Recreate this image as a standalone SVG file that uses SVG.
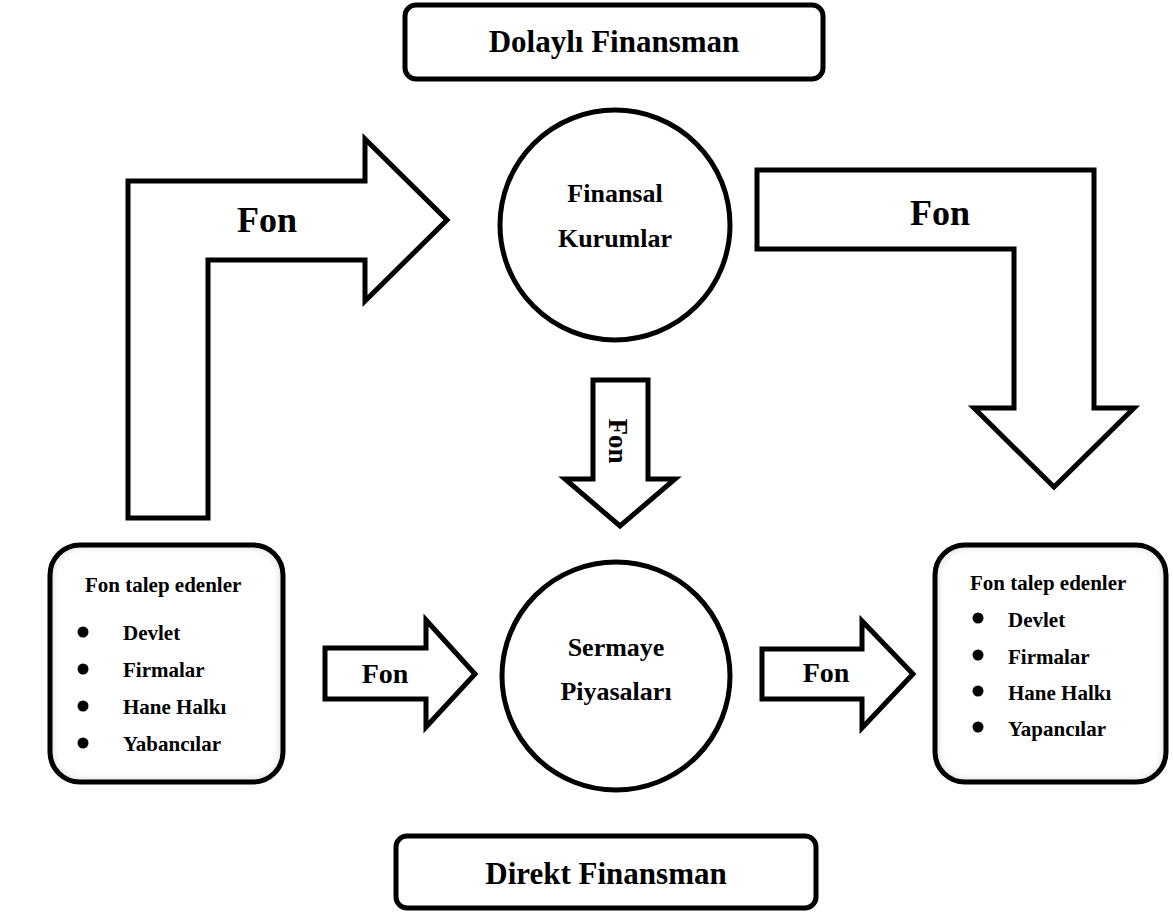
<svg xmlns="http://www.w3.org/2000/svg" width="1173" height="915" viewBox="0 0 1173 915">
  <style>
    text { font-family: "Liberation Serif", "Times New Roman", serif; font-weight: bold; fill: #000; }
    .outline { fill: #fff; stroke: #000; stroke-width: 5; stroke-linejoin: miter; }
    .circle { fill: #fff; stroke: #000; stroke-width: 5; }
    .frame { fill: none; stroke: #000; stroke-width: 5; }
    .title { font-size: 31px; text-anchor: middle; }
    .ctext { font-size: 26px; text-anchor: middle; }
    .fonbig { font-size: 36px; text-anchor: middle; }
    .fonsmall { font-size: 28px; text-anchor: middle; }
    .list { font-size: 21px; }
    .bullet { fill: #000; }
  </style>
  <defs>
    <filter id="inner" x="-10%" y="-10%" width="120%" height="120%">
      <feFlood flood-color="#000" flood-opacity="0.6"/>
      <feComposite in2="SourceAlpha" operator="out"/>
      <feGaussianBlur stdDeviation="5"/>
      <feComposite in2="SourceAlpha" operator="in" result="sh"/>
      <feMerge><feMergeNode in="SourceGraphic"/><feMergeNode in="sh"/></feMerge>
    </filter>
  </defs>
  <rect width="1173" height="915" fill="#fff"/>

  <g id="connectors">
    <g id="arrow-left-bent">
      <polygon class="outline" points="128,518 128,181 365,181 365,139 447,220 365,301 365,260 208,260 208,518"/>
      <text class="fonbig" x="267" y="232">Fon</text>
    </g>
    <g id="arrow-right-bent">
      <polygon class="outline" points="757,170 1094,170 1094,408 1134,408 1054,487 974,408 1014,408 1014,249 757,249"/>
      <text class="fonbig" x="940" y="225">Fon</text>
    </g>
    <g id="arrow-down">
      <polygon class="outline" points="593,380 648,380 648,479 675,479 620,526 565,479 593,479"/>
      <text font-size="27" text-anchor="middle" transform="translate(609,441) rotate(90)">Fon</text>
    </g>
    <g id="arrow-left-small">
      <polygon class="outline" points="325,648 426,648 426,620 475,674 426,727 426,699 325,699"/>
      <text class="fonsmall" x="385" y="683">Fon</text>
    </g>
    <g id="arrow-right-small">
      <polygon class="outline" points="762,649 862,649 862,621 913,674 862,728 862,699 762,699"/>
      <text class="fonsmall" x="826" y="682">Fon</text>
    </g>
  </g>

  <g id="dolayli-finansman">
    <rect class="frame" x="405" y="5" width="418" height="74" rx="11" fill="#fff"/>
    <text class="title" x="614" y="52">Dolaylı Finansman</text>
  </g>

  <g id="direkt-finansman">
    <rect class="frame" x="396" y="836" width="420" height="72" rx="11" fill="#fff"/>
    <text class="title" x="606" y="884">Direkt Finansman</text>
  </g>

  <g id="finansal-kurumlar">
    <circle class="circle" cx="615" cy="225" r="115"/>
    <text class="ctext" x="615" y="202">Finansal</text>
    <text class="ctext" x="615" y="247">Kurumlar</text>
  </g>

  <g id="sermaye-piyasalari">
    <circle class="circle" cx="616" cy="676" r="114"/>
    <text class="ctext" x="616" y="656">Sermaye</text>
    <text class="ctext" x="616" y="700">Piyasaları</text>
  </g>

  <g id="fon-talep-left">
    <rect x="50" y="545" width="233" height="237" rx="30" fill="#fff" filter="url(#inner)"/>
    <rect class="frame" x="50" y="545" width="233" height="237" rx="30"/>
    <text class="list" x="85" y="592">Fon talep edenler</text>
    <circle class="bullet" cx="83" cy="632" r="5.5"/>
    <text class="list" x="123" y="640">Devlet</text>
    <circle class="bullet" cx="83" cy="669" r="5.5"/>
    <text class="list" x="123" y="677">Firmalar</text>
    <circle class="bullet" cx="83" cy="706" r="5.5"/>
    <text class="list" x="123" y="714">Hane Halkı</text>
    <circle class="bullet" cx="83" cy="743" r="5.5"/>
    <text class="list" x="123" y="751">Yabancılar</text>
  </g>

  <g id="fon-talep-right">
    <rect x="935" y="545" width="231" height="237" rx="30" fill="#fff" filter="url(#inner)"/>
    <rect class="frame" x="935" y="545" width="231" height="237" rx="30"/>
    <text class="list" x="970" y="590">Fon talep edenler</text>
    <circle class="bullet" cx="978" cy="618" r="5.5"/>
    <text class="list" x="1008" y="627">Devlet</text>
    <circle class="bullet" cx="978" cy="655" r="5.5"/>
    <text class="list" x="1008" y="664">Firmalar</text>
    <circle class="bullet" cx="978" cy="691" r="5.5"/>
    <text class="list" x="1008" y="700">Hane Halkı</text>
    <circle class="bullet" cx="978" cy="727" r="5.5"/>
    <text class="list" x="1008" y="736">Yapancılar</text>
  </g>
</svg>
